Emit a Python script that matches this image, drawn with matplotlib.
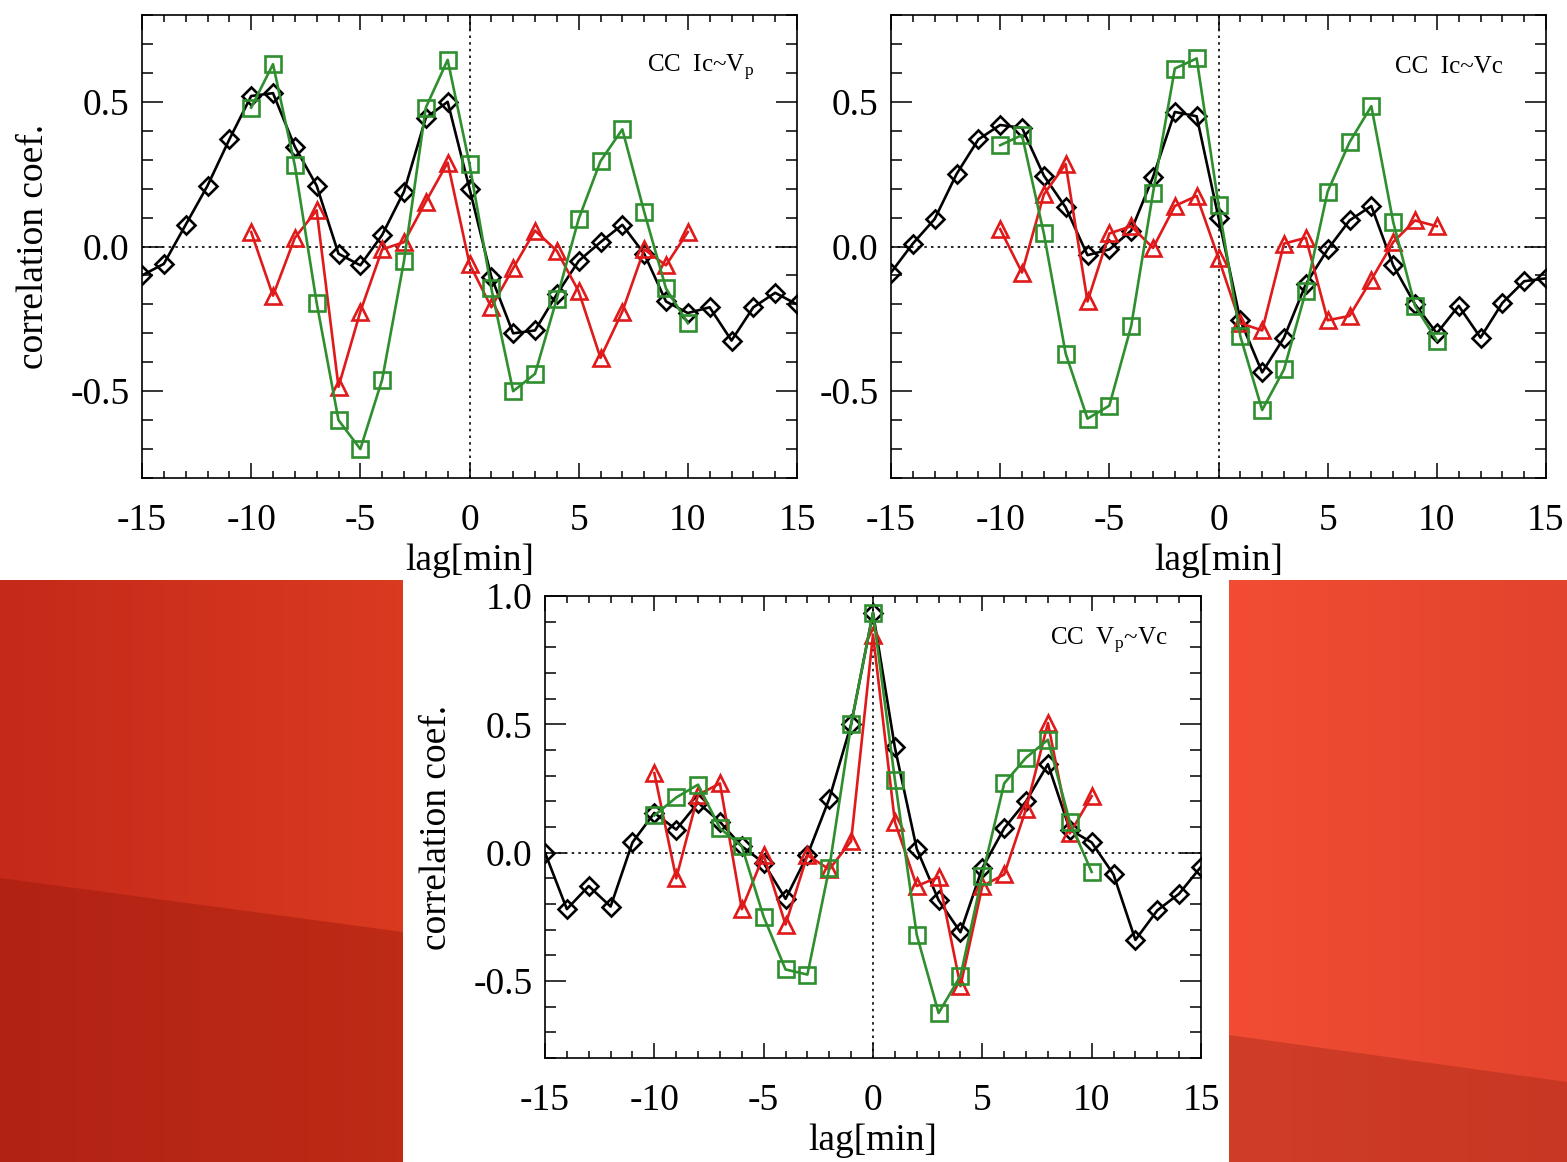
import numpy as np
import matplotlib
matplotlib.use('Agg')
import matplotlib.pyplot as plt
from matplotlib.patches import Polygon
from matplotlib.colors import to_rgb

plt.rcParams['font.family'] = ['Liberation Serif', 'DejaVu Serif']
plt.rcParams['mathtext.fontset'] = 'custom'
plt.rcParams['mathtext.rm'] = 'Liberation Serif'
plt.rcParams['axes.unicode_minus'] = False

lags = np.arange(-15, 16)
lags_short = np.arange(-10, 11)

# CC Ic~Vp
black1 = [-0.10, -0.06, 0.075, 0.21, 0.37, 0.52, 0.53, 0.345, 0.21, -0.025, -0.065,
          0.04, 0.19, 0.445, 0.50, 0.20, -0.105, -0.30, -0.29, -0.165, -0.05,
          0.015, 0.075, -0.025, -0.19, -0.23, -0.21, -0.325, -0.21, -0.16, -0.20]
red1 = [0.05, -0.17, 0.03, 0.125, -0.485, -0.225, -0.01, 0.015, 0.155, 0.29, -0.06,
        -0.21, -0.075, 0.055, -0.015, -0.155, -0.385, -0.225, -0.01, -0.065, 0.05]
green1 = [0.48, 0.63, 0.28, -0.195, -0.60, -0.70, -0.46, -0.05, 0.48, 0.645, 0.285,
          -0.145, -0.50, -0.44, -0.18, 0.095, 0.295, 0.405, 0.12, -0.145, -0.265]

# CC Ic~Vc
black2 = [-0.09, 0.01, 0.095, 0.25, 0.37, 0.42, 0.41, 0.245, 0.135, -0.03, -0.01,
          0.055, 0.24, 0.465, 0.45, 0.10, -0.255, -0.435, -0.315, -0.13, -0.01,
          0.09, 0.14, -0.065, -0.20, -0.30, -0.205, -0.315, -0.195, -0.12, -0.11]
red2 = [0.06, -0.09, 0.18, 0.285, -0.19, 0.045, 0.07, -0.005, 0.14, 0.175, -0.04,
        -0.265, -0.29, 0.01, 0.03, -0.255, -0.24, -0.115, 0.015, 0.09, 0.07]
green2 = [0.35, 0.385, 0.045, -0.37, -0.595, -0.55, -0.275, 0.185, 0.615, 0.65, 0.145,
          -0.31, -0.565, -0.425, -0.155, 0.19, 0.36, 0.485, 0.085, -0.205, -0.325]

# CC Vp~Vc
black3 = [0.0, -0.22, -0.13, -0.21, 0.04, 0.155, 0.09, 0.195, 0.12, 0.025, -0.04,
          -0.18, -0.01, 0.21, 0.50, 0.935, 0.41, 0.015, -0.185, -0.31, -0.06,
          0.095, 0.20, 0.345, 0.09, 0.04, -0.085, -0.34, -0.225, -0.16, -0.055]
red3 = [0.31, -0.10, 0.225, 0.27, -0.22, -0.01, -0.28, -0.01, -0.065, 0.045, 0.85,
        0.12, -0.13, -0.095, -0.52, -0.13, -0.085, 0.17, 0.505, 0.075, 0.22]
green3 = [0.145, 0.215, 0.265, 0.095, 0.025, -0.25, -0.455, -0.475, -0.06, 0.50, 0.935,
          0.285, -0.32, -0.625, -0.48, -0.09, 0.27, 0.37, 0.44, 0.12, -0.075]

titles = [r'CC  Ic~V$_{\rm p}$', r'CC  Ic~Vc', r'CC  V$_{\rm p}$~Vc']

W, H = 1567, 1162
fig = plt.figure(figsize=(W / 100, H / 100), dpi=100, facecolor='white')

# red slide background around the lower panel
bg = fig.add_axes([0, 0, 1, 1], zorder=-10)
bg.axis('off')


def gradient(c1, c2, n=64):
    a, b = np.array(to_rgb(c1)), np.array(to_rgb(c2))
    t = np.linspace(0, 1, n)[None, :, None]
    return a + (b - a) * t


bg.imshow(gradient('#c4291a', '#da3a20'), extent=(0, 403, H, 580), aspect='auto', zorder=1)
bg.imshow(gradient('#f24d34', '#e2432c'), extent=(1229, W, H, 580), aspect='auto', zorder=1)
bg.add_patch(Polygon([(0, 878), (403, 932), (403, H), (0, H)], closed=True,
                     facecolor='#9c1a0c', alpha=0.45, edgecolor='none', zorder=2))
bg.add_patch(Polygon([(1229, 1035), (W, 1082), (W, H), (1229, H)], closed=True,
                     facecolor='#a82a1a', alpha=0.45, edgecolor='none', zorder=2))
bg.set_xlim(0, W)
bg.set_ylim(H, 0)

panels = [
    ([142, 15, 797, 478], black1, red1, green1, (-0.8, 0.8), [-0.5, 0.0, 0.5], (0.852, 0.888)),
    ([891, 15, 1546, 478], black2, red2, green2, (-0.8, 0.8), [-0.5, 0.0, 0.5], (0.852, 0.888)),
    ([545, 596, 1201, 1058], black3, red3, green3, (-0.8, 1.0), [-0.5, 0.0, 0.5, 1.0], (0.86, 0.905)),
]

for i, (box, bk, rd, gr, ylim, yt, tpos) in enumerate(panels):
    x0, y0, x1, y1 = box
    ax = fig.add_axes([x0 / W, 1 - y1 / H, (x1 - x0) / W, (y1 - y0) / H])
    ax.axhline(0, color='black', lw=1.2, ls=(0, (1.5, 2.5)), zorder=1)
    ax.axvline(0, color='black', lw=1.2, ls=(0, (1.5, 2.5)), zorder=1)
    ax.plot(lags, bk, color='black', lw=1.9, marker='D', ms=9.5, mfc='none',
            mew=1.9, zorder=3)
    ax.plot(lags_short, rd, color='#e01a1a', lw=1.9, marker='^', ms=12, mfc='none',
            mew=1.9, zorder=4)
    ax.plot(lags_short, gr, color='#2f8f2f', lw=1.9, marker='s', ms=11.5, mfc='none',
            mew=1.9, zorder=5)
    ax.set_xlim(-15, 15)
    ax.set_ylim(*ylim)
    ax.set_xticks([-15, -10, -5, 0, 5, 10, 15])
    ax.set_xticks(np.arange(-15, 16), minor=True)
    ax.set_yticks(yt)
    ax.set_yticks(np.arange(ylim[0], ylim[1] + 0.001, 0.1), minor=True)
    ax.set_yticklabels([f'{v:.1f}' for v in yt])
    ax.tick_params(axis='both', which='both', direction='in', top=True, right=True,
                   width=1.1, labelsize=27, colors='black')
    ax.tick_params(axis='x', which='major', length=11, pad=18)
    ax.tick_params(axis='x', which='minor', length=5)
    ax.tick_params(axis='y', which='major', length=15, pad=9)
    ax.tick_params(axis='y', which='minor', length=8)
    for s in ax.spines.values():
        s.set_linewidth(1.2)
    ax.set_xlabel('lag[min]', fontsize=27, labelpad=4)
    if i != 1:
        ax.set_ylabel('correlation coef.', fontsize=27, labelpad=14)
    ax.text(tpos[0], tpos[1], titles[i], transform=ax.transAxes, fontsize=18,
            ha='center', va='center')

fig.savefig('out.png', dpi=100, facecolor='white')
